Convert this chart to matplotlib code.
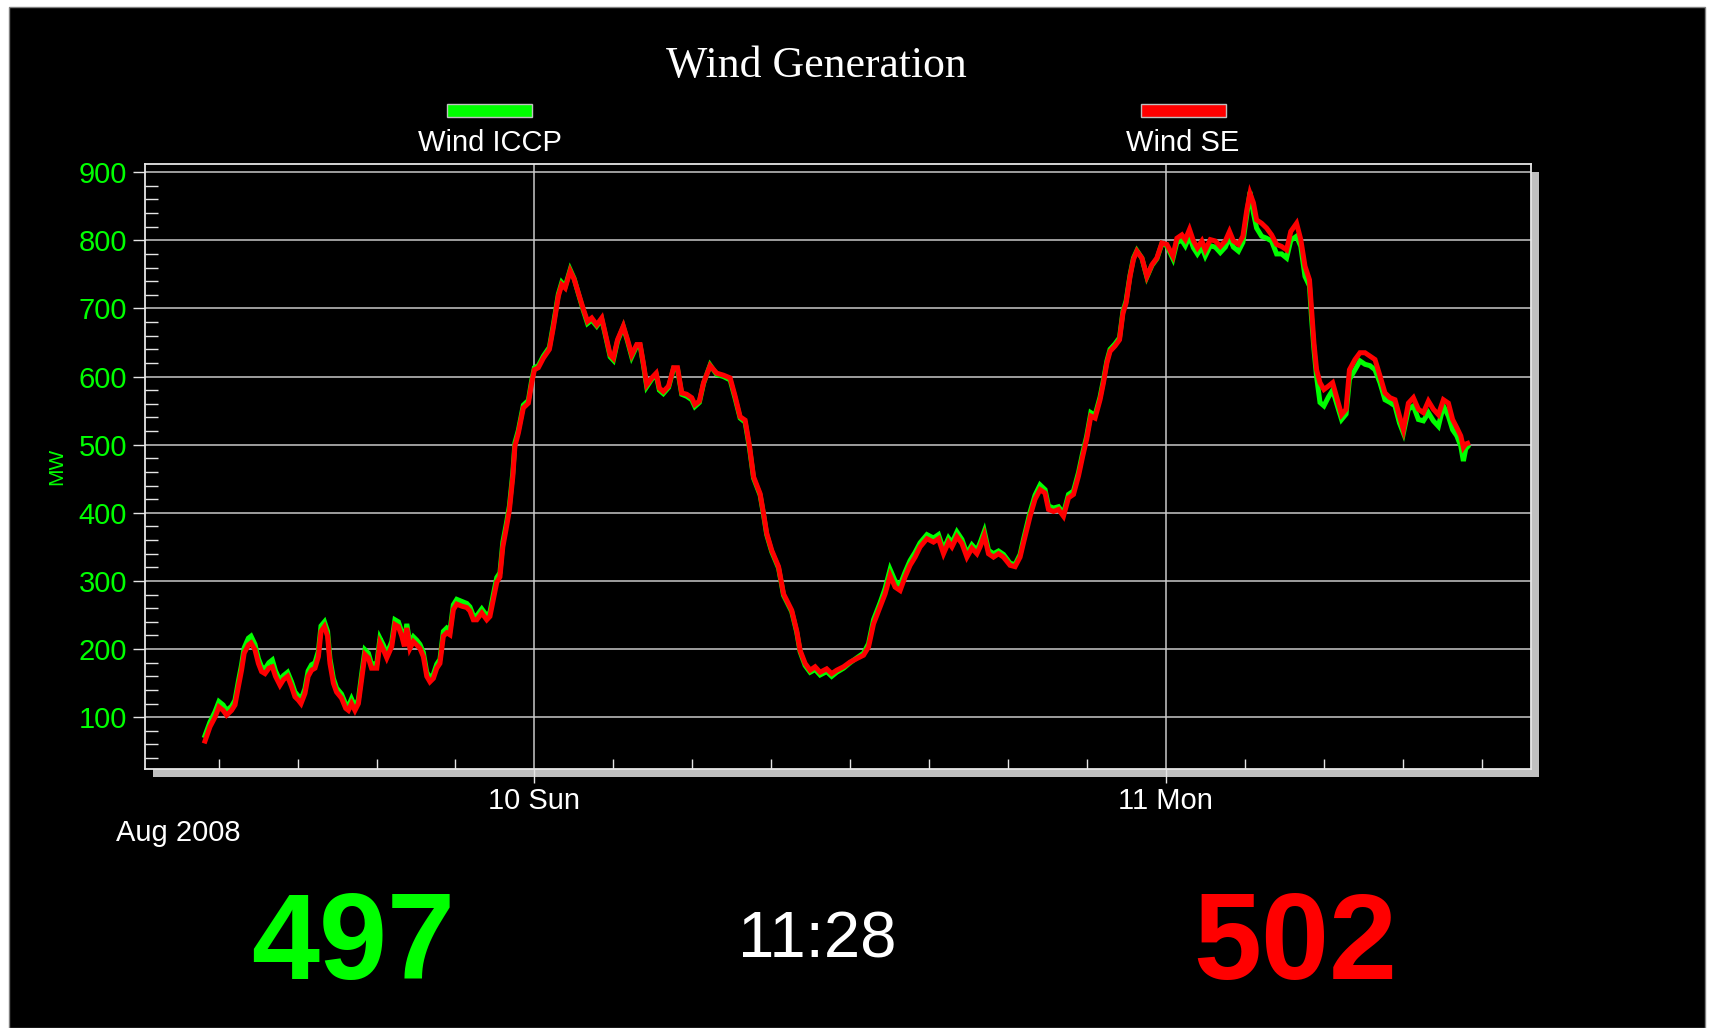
import pandas as pd
import matplotlib
matplotlib.use("Agg")
import matplotlib.pyplot as plt
import matplotlib.dates as mdates
from matplotlib.patches import Rectangle
from matplotlib.ticker import MultipleLocator

plt.rcParams['font.family'] = ['Liberation Sans', 'DejaVu Sans']

W, H = 1710, 1028

# hours since 2008-08-09 00:00
hours = [
    11.48, 11.67, 11.86, 12.01, 12.17, 12.30, 12.49, 12.62, 12.75, 12.87, 12.97, 13.13,
    13.23, 13.38, 13.51, 13.63, 13.76, 13.91, 14.04, 14.16, 14.33, 14.46, 14.62, 14.77,
    14.90, 15.03, 15.13, 15.28, 15.40, 15.53, 15.66, 15.79, 15.89, 16.02, 16.14, 16.23,
    16.36, 16.48, 16.67, 16.83, 16.93, 17.05, 17.18, 17.31, 17.43, 17.56, 17.69, 17.81,
    18.01, 18.13, 18.26, 18.39, 18.58, 18.70, 18.83, 18.96, 19.06, 19.15, 19.27, 19.40,
    19.53, 19.65, 19.78, 19.91, 20.03, 20.16, 20.29, 20.41, 20.54, 20.67, 20.79, 20.92,
    21.05, 21.24, 21.43, 21.55, 21.68, 21.81, 22.00, 22.19, 22.31, 22.44, 22.57,
    22.69, 22.80, 22.92, 23.05, 23.18, 23.26, 23.39, 23.58, 23.77, 23.90, 24.00, 24.15,
    24.34, 24.57, 24.72, 24.91, 25.04, 25.17, 25.36, 25.51, 25.67, 25.86, 26.02, 26.18,
    26.37, 26.56, 26.72, 26.88, 27.00, 27.16, 27.38, 27.54, 27.70, 27.89, 28.02, 28.14,
    28.27, 28.46, 28.63, 28.75, 28.90, 29.10, 29.29, 29.44, 29.60, 29.79, 29.98, 30.10,
    30.27, 30.43,
    30.68, 30.93, 31.19, 31.44, 31.63, 31.82, 32.01, 32.18, 32.33, 32.58, 32.71, 32.83,
    33.02, 33.28, 33.47, 33.78, 33.97, 34.10, 34.29, 34.48, 34.67, 34.86, 35.11, 35.30,
    35.49, 35.75, 36.00, 36.25, 36.51, 36.70, 36.89, 37.14, 37.33, 37.52, 37.71, 37.90,
    38.09, 38.28, 38.47, 38.66, 38.92, 39.17, 39.36, 39.55, 39.74, 39.87, 40.06, 40.25,
    40.44, 40.63, 40.82, 40.94, 41.10, 41.26, 41.45, 41.64, 41.83, 42.08, 42.27, 42.46,
    42.59, 42.84, 43.03, 43.22, 43.41, 43.54, 43.73, 43.92, 44.11, 44.30, 44.49, 44.68,
    44.84, 44.99, 45.15, 45.31, 45.50, 45.63, 45.76, 45.88, 46.07, 46.24, 46.37, 46.49,
    46.64, 46.77, 46.90, 47.09, 47.28, 47.47, 47.66, 47.85, 48.04, 48.27, 48.42, 48.61,
    48.74, 48.90, 49.05, 49.20, 49.37, 49.50, 49.69, 49.88, 50.07, 50.26, 50.42, 50.57,
    50.76, 50.93, 51.08,
    51.20, 51.33, 51.45, 51.64, 51.83, 52.02, 52.21, 52.40, 52.59, 52.75, 52.97, 53.13,
    53.29, 53.46, 53.54, 53.63, 53.73, 53.86, 54.01, 54.18, 54.34, 54.52, 54.68, 54.85,
    54.98, 55.19, 55.38, 55.57, 55.76, 55.95, 56.14, 56.33, 56.52, 56.71, 56.88, 57.03,
    57.22, 57.41, 57.60, 57.79, 57.98, 58.17, 58.36, 58.55, 58.74, 58.90, 59.06, 59.21,
    59.31, 59.40, 59.47,
]

wind_se = [
    65, 86, 100, 115, 110, 103, 110, 118, 145, 169, 194, 206,
    209, 199, 179, 167, 164, 172, 174, 160, 147, 155, 160, 145,
    130, 125, 120, 135, 160, 169, 172, 189, 226, 233, 219, 179,
    150, 137, 128, 113, 110, 120, 110, 120, 155, 192, 187, 172,
    172, 209, 199, 187, 204, 236, 233, 219, 204, 231, 201, 211,
    206, 201, 189, 160, 152, 157, 172, 179, 219, 224, 221, 258,
    266, 263, 261, 256, 243, 243, 253, 243, 248, 273, 298,
    306, 350, 375, 404, 453, 498, 517, 554, 561, 591, 610, 613,
    627, 640, 672, 718, 735, 730, 755, 743, 723, 699, 681, 686,
    676, 686, 659, 632, 627, 654, 674, 654, 632, 647, 647, 620,
    588, 598, 605, 583, 578, 586, 613, 613, 576, 574, 569, 559,
    564, 591,
    616, 605, 602, 598, 571, 541, 536, 497, 453, 428, 399, 370,
    345, 321, 281, 257, 227, 198, 179, 169, 174, 166, 171, 164,
    169, 174, 181, 186, 191, 203, 237, 262, 281, 308, 291, 286,
    306, 323, 335, 350, 362, 357, 362, 340, 357, 350, 365, 355,
    335, 348, 340, 350, 367, 340, 335, 340, 335, 323, 321, 335,
    356, 395, 420, 434, 429, 405, 402, 405, 395, 422, 427, 454,
    483, 508, 542, 539, 566, 591, 620, 637, 645, 654, 693, 708,
    747, 772, 784, 774, 747, 764, 774, 796, 794, 777, 803, 808,
    801, 816, 799, 789, 799, 786, 801, 799, 791, 799, 813, 799,
    794, 806, 845,
    869, 855, 830, 825, 818, 808, 794, 791, 786, 813, 825, 801,
    762, 742, 698, 649, 610, 591, 581, 586, 591, 566, 544, 552,
    610, 625, 635, 635, 630, 625, 601, 576, 569, 566, 542, 522,
    561, 569, 552, 547, 564, 552, 544, 566, 561, 537, 525, 513,
    496, 501, 502,
]

wind_iccp = [
    73, 93, 108, 123, 118, 110, 116, 125, 153, 177, 202, 216,
    219, 207, 186, 174, 171, 180, 184, 168, 154, 161, 166, 152,
    137, 131, 126, 142, 168, 177, 180, 197, 234, 240, 226, 186,
    157, 143, 134, 119, 116, 127, 116, 126, 162, 199, 194, 178,
    179, 216, 206, 193, 211, 243, 240, 225, 210, 237, 208, 218,
    213, 207, 195, 166, 158, 163, 178, 185, 226, 231, 227, 265,
    273, 270, 267, 262, 249, 249, 259, 249, 254, 280, 305,
    312, 357, 381, 410, 459, 503, 521, 558, 565, 595, 613, 616,
    630, 643, 676, 721, 738, 732, 757, 744, 722, 697, 678, 683,
    674, 684, 657, 629, 624, 652, 673, 652, 629, 645, 645, 618,
    585, 596, 603, 580, 575, 584, 612, 611, 574, 571, 566, 556,
    562, 590,
    617, 603, 600, 595, 568, 539, 533, 494, 451, 426, 397, 368,
    343, 319, 279, 255, 225, 196, 176, 166, 170, 162, 167, 160,
    166, 172, 180, 187, 194, 208, 243, 268, 289, 317, 300, 294,
    313, 330, 342, 356, 368, 363, 368, 346, 363, 356, 372, 361,
    340, 353, 345, 356, 373, 345, 340, 344, 339, 326, 324, 339,
    361, 401, 426, 441, 434, 410, 407, 409, 399, 427, 432, 459,
    488, 512, 547, 543, 570, 595, 623, 640, 648, 657, 696, 711,
    749, 774, 785, 774, 746, 763, 773, 795, 792, 773, 797, 800,
    792, 806, 789, 780, 790, 777, 792, 790, 782, 790, 804, 790,
    784, 797, 838,
    871, 840, 818, 806, 803, 799, 780, 780, 774, 800, 806, 791,
    747, 733, 685, 640, 600, 562, 557, 570, 580, 557, 537, 545,
    596, 610, 623, 618, 616, 610, 591, 566, 562, 557, 532, 517,
    552, 557, 537, 535, 547, 535, 527, 557, 542, 522, 513, 498,
    476, 494, 497,
]

clock_text = "11:28"

times = pd.Timestamp("2008-08-09") + pd.to_timedelta(hours, unit="h")

fig = plt.figure(figsize=(W / 100, H / 100), dpi=100)
fig.patch.set_facecolor("white")

# black display panel
fig.add_artist(Rectangle((9 / W, 0), 1696 / W, 1 - 7 / H, transform=fig.transFigure,
                         facecolor="black", edgecolor="#808080", lw=1, zorder=-2))
# drop shadow of the plot area
fig.add_artist(Rectangle((153 / W, 1 - 777 / H), 1386 / W, 605 / H, transform=fig.transFigure,
                         facecolor="#c0c0c0", edgecolor="none", zorder=-1))

ax = fig.add_axes([145 / W, 1 - 769 / H, (1531 - 145) / W, (769 - 164) / H])
ax.set_facecolor("black")

ax.plot(times, wind_iccp, color="#00ff00", lw=3.6, solid_joinstyle="miter")
ax.plot(times, wind_se, color="#ff0000", lw=3.6, solid_joinstyle="miter")

ax.set_ylim(24, 912)
t0 = pd.Timestamp("2008-08-09")
ax.set_xlim(t0 + pd.Timedelta(hours=9.2), t0 + pd.Timedelta(hours=61.88))

for s in ax.spines.values():
    s.set_color("#e6e6e6")
    s.set_linewidth(1.3)

ax.yaxis.set_major_locator(MultipleLocator(100))
ax.yaxis.set_minor_locator(MultipleLocator(20))
ax.tick_params(axis="y", which="major", direction="out", length=9, width=1,
               color="#e6e6e6", labelcolor="#00ff00", labelsize=21, pad=4)
ax.tick_params(axis="y", which="minor", direction="in", length=9.5, width=1, color="#e6e6e6")

ax.xaxis.set_major_locator(mdates.DayLocator())
ax.xaxis.set_major_formatter(mdates.DateFormatter("%d %a"))
ax.xaxis.set_minor_locator(mdates.HourLocator(byhour=range(0, 24, 3)))
ax.tick_params(axis="x", which="major", direction="out", length=10, width=1,
               color="#e6e6e6", labelcolor="white", labelsize=21, pad=3)
ax.tick_params(axis="x", which="minor", direction="in", length=7, width=1, color="#e6e6e6")

ax.grid(which="major", color="#c8c8c8", lw=1.1)

# title, legend and labels
fig.text(816 / W, 1 - 66 / H, "Wind Generation", family="Liberation Serif", size=31.5,
         color="white", ha="center", va="center")

legend_items = [("Wind ICCP", "#00ff00", 447, 490), ("Wind SE", "#ff0000", 1141, 1183)]
for name, col, x0, xc in legend_items:
    fig.add_artist(Rectangle((x0 / W, 1 - 117 / H), 85 / W, 13 / H, transform=fig.transFigure,
                             facecolor=col, edgecolor="#c0c0c0", lw=1))
    fig.text(xc / W, 1 - 143 / H, name, size=21, color="white", ha="center", va="center")

fig.text(57 / W, 1 - 466 / H, "MW", size=15, color="#00ff00", rotation=90,
         ha="center", va="center")
fig.text(178 / W, 1 - 833 / H, "Aug 2008", size=21, color="white", ha="center", va="center")

# current readings
fig.text(353 / W, 1 - 979 / H, f"{wind_iccp[-1]}", size=88, weight="bold", color="#00ff00",
         ha="center", va="baseline")
fig.text(817 / W, 1 - 957 / H, clock_text, size=47, color="white", ha="center", va="baseline")
fig.text(1295 / W, 1 - 979 / H, f"{wind_se[-1]}", size=88, weight="bold", color="#ff0000",
         ha="center", va="baseline")

fig.savefig("out.png", dpi=100, facecolor=fig.get_facecolor())
